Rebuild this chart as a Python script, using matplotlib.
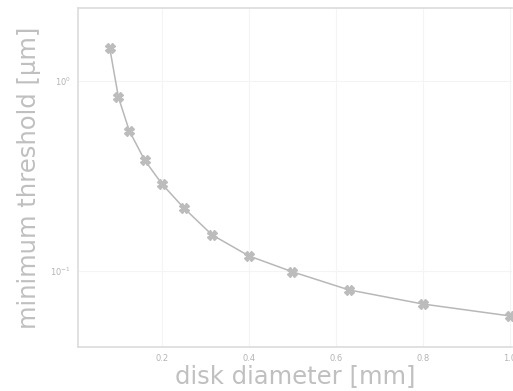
import matplotlib
matplotlib.use('Agg')
import matplotlib.pyplot as plt

# disk diameter [mm] and minimum threshold [um]
diameter = [0.08, 0.1, 0.125, 0.16, 0.2, 0.25, 0.315, 0.4, 0.5, 0.63, 0.8, 1.0]
threshold = [1.49, 0.82, 0.546, 0.384, 0.287, 0.215, 0.155, 0.12, 0.099, 0.0795, 0.067, 0.058]
x_ticks = [0.2, 0.4, 0.6, 0.8, 1.0]

fig = plt.figure(figsize=(5.13, 3.91), dpi=100)
ax = fig.add_axes([78 / 513, 44 / 391, 434 / 513, 339 / 391])

ax.plot(diameter, threshold, color='#b8b8b8', linewidth=1.1,
        marker='X', markersize=7, markerfacecolor='#bcbcbc', markeredgecolor='#bcbcbc')

ax.set_yscale('log')
ax.set_xlim(0.007, 1.005)
ax.set_ylim(0.0398, 2.42)
ax.set_xticks(x_ticks)
ax.set_xticklabels(['0.2', '0.4', '0.6', '0.8', '1.0'])
ax.set_yticks([0.1, 1.0])
ax.set_yticklabels([r'$10^{-1}$', r'$10^{0}$'])
ax.minorticks_off()

ax.tick_params(length=0, labelsize=6, labelcolor='#b4b4b4', pad=5)
ax.grid(True, color='#f4f4f4', linewidth=0.8)
for side in ['left', 'bottom', 'top']:
    ax.spines[side].set_color('#dcdcdc')
    ax.spines[side].set_linewidth(1.2)
ax.spines['right'].set_visible(False)

ax.set_xlabel('disk diameter [mm]', fontsize=17.5, color='#c0c0c0', labelpad=1)
ax.set_ylabel('minimum threshold [\u03bcm]', fontsize=17.5, color='#c0c0c0', labelpad=7)

fig.savefig('out.png', dpi=100)
